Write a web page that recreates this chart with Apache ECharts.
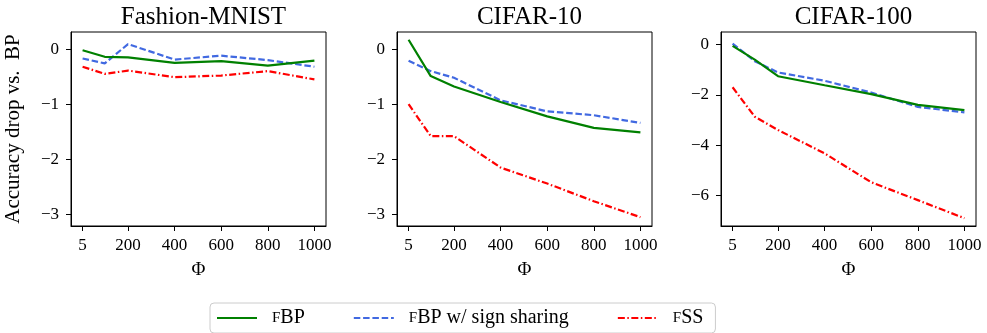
<!DOCTYPE html>
<html><head><meta charset="utf-8">
<script src="https://cdn.jsdelivr.net/npm/echarts@6/dist/echarts.min.js"></script>
<style>html,body{margin:0;padding:0;background:#fff}#c{width:987px;height:333px}</style>
</head><body><div id="c"></div>
<script>
const phi = [5, 100, 200, 400, 600, 800, 1000];
const xTicks = [5, 200, 400, 600, 800, 1000];
const titles = ['Fashion-MNIST', 'CIFAR-10', 'CIFAR-100'];
const seriesNames = ['fBP', 'fBP w/ sign sharing', 'fSS'];

const fmFBP  = [-0.02, -0.14, -0.15, -0.25, -0.22, -0.30, -0.21];
const fmSign = [-0.17, -0.26,  0.09, -0.19, -0.12, -0.20, -0.32];
const fmFSS  = [-0.32, -0.45, -0.39, -0.51, -0.48, -0.40, -0.55];

const c10FBP  = [0.17, -0.49, -0.68, -0.96, -1.22, -1.43, -1.51];
const c10Sign = [-0.21, -0.40, -0.52, -0.93, -1.13, -1.20, -1.34];
const c10FSS  = [-1.00, -1.58, -1.58, -2.15, -2.44, -2.76, -3.05];

const c100FBP  = [-0.05, -0.60, -1.26, -1.62, -1.97, -2.40, -2.61];
const c100Sign = [0.04, -0.66, -1.11, -1.44, -1.91, -2.48, -2.70];
const c100FSS  = [-1.70, -2.87, -3.40, -4.33, -5.48, -6.19, -6.91];

const yTicks = [[0, -1, -2, -3], [0, -1, -2, -3], [0, -2, -4, -6]];
const yRanges = [[-3.21, 0.31], [-3.21, 0.31], [-7.22, 0.5]];
const panelData = [[fmFBP, fmSign, fmFSS], [c10FBP, c10Sign, c10FSS], [c100FBP, c100Sign, c100FSS]];

const colors = ['#008000', '#4169E1', '#FF0000'];
const dashTypes = ['solid', [6.5, 2.8], [7, 2.5, 1.5, 2.5]];
const FONT = 'Liberation Serif';

const grids = [
  {left: 71, top: 32, width: 255, height: 194},
  {left: 397, top: 32, width: 255, height: 194},
  {left: 721, top: 32, width: 255, height: 194}
];

const fmtNum = v => (v < 0 ? '\u2212' + Math.abs(v) : String(v));

const option = {
  animation: false,
  backgroundColor: '#fff',
  title: titles.map((t, i) => ({
    text: t,
    left: grids[i].left + grids[i].width / 2,
    top: 0,
    textAlign: 'center',
    textStyle: {fontFamily: FONT, fontSize: 25, fontWeight: 'normal', color: '#000'}
  })),
  grid: grids.map(g => Object.assign({show: true, borderColor: '#000', borderWidth: 1, backgroundColor: 'transparent'}, g)),
  xAxis: grids.map((g, i) => ({
    type: 'value', gridIndex: i, min: -44.75, max: 1049.75,
    name: '\u03A6', nameLocation: 'middle', nameGap: 35,
    nameTextStyle: {fontFamily: FONT, fontSize: 19, color: '#000'},
    axisLine: {show: true, onZero: false, lineStyle: {color: '#000'}},
    axisTick: {show: true, length: 5, customValues: xTicks, lineStyle: {color: '#000'}},
    axisLabel: {customValues: xTicks, margin: 11, fontFamily: FONT, fontSize: 17, color: '#000', formatter: v => String(v)},
    splitLine: {show: false}
  })),
  yAxis: grids.map((g, i) => ({
    type: 'value', gridIndex: i, min: yRanges[i][0], max: yRanges[i][1],
    name: i === 0 ? 'Accuracy drop vs.  BP' : '', nameLocation: 'middle', nameGap: 47,
    nameTextStyle: {fontFamily: FONT, fontSize: 21, color: '#000'},
    axisLine: {show: true, onZero: false, lineStyle: {color: '#000'}},
    axisTick: {show: true, length: 5, customValues: yTicks[i], lineStyle: {color: '#000'}},
    axisLabel: {customValues: yTicks[i], margin: 12, fontFamily: FONT, fontSize: 17, color: '#000', formatter: fmtNum},
    splitLine: {show: false}
  })),
  legend: {
    data: seriesNames,
    left: 210, top: 303, width: 498, height: 29,
    padding: [5, 12, 5, 6],
    itemWidth: 40, itemHeight: 14, itemGap: 48,
    borderColor: '#cccccc', borderWidth: 1, borderRadius: 4,
    backgroundColor: '#fff',
    itemStyle: {opacity: 0},
    formatter: name => '{sc|F}' + name.slice(1),
    textStyle: {fontFamily: FONT, fontSize: 20, color: '#000', padding: [0, 0, 0, 10],
      rich: {sc: {fontFamily: FONT, fontSize: 15, color: '#000'}}}
  },
  series: []
};

panelData.forEach((arr, p) => {
  arr.forEach((vals, s) => {
    option.series.push({
      type: 'line', name: seriesNames[s], xAxisIndex: p, yAxisIndex: p,
      data: phi.map((x, k) => [x, vals[k]]),
      showSymbol: false, symbol: 'none',
      lineStyle: {color: colors[s], width: 2.2, type: dashTypes[s]},
      itemStyle: {color: colors[s]},
      z: 3 - s
    });
  });
});

const chart = echarts.init(document.getElementById('c'), null, {renderer: 'canvas'});
chart.setOption(option);
</script></body></html>
